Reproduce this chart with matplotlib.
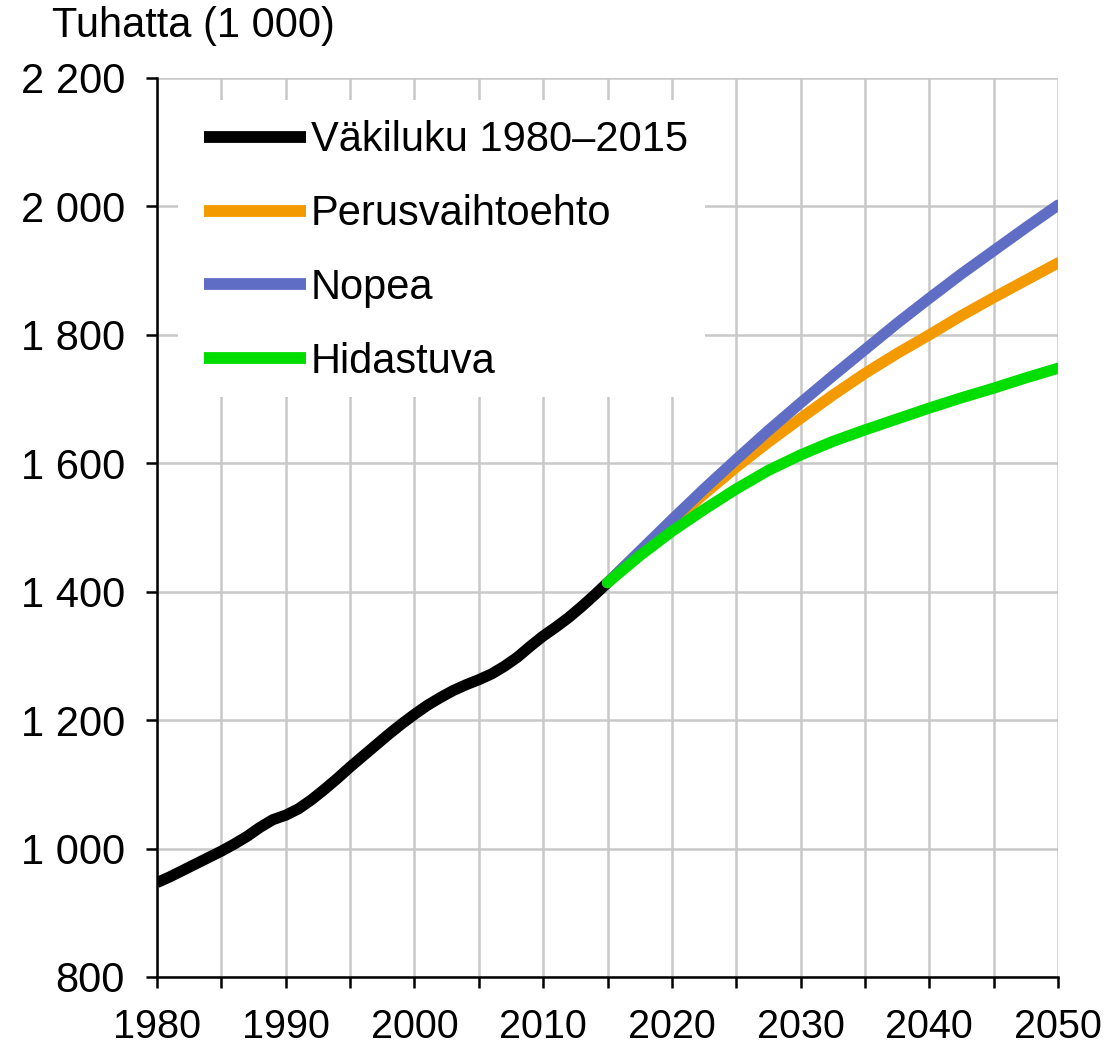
import matplotlib
matplotlib.use("Agg")
import matplotlib.pyplot as plt
from matplotlib.patches import Rectangle
from matplotlib.ticker import FuncFormatter

plt.rcParams['font.family'] = ['Liberation Sans', 'DejaVu Sans']

# historical population (thousands)
hist_years = list(range(1980, 2016))
hist_pop = [947, 956, 966, 976, 986, 996, 1007, 1019, 1033, 1045,
            1052, 1062, 1076, 1092, 1109, 1127, 1144, 1161, 1178, 1194,
            1209, 1223, 1235, 1246, 1255, 1263, 1272, 1284, 1298, 1315,
            1331, 1345, 1360, 1377, 1395, 1414]

# projections
proj_years = [2015, 2017.5, 2020, 2022.5, 2025, 2027.5, 2030, 2032.5,
              2035, 2037.5, 2040, 2042.5, 2045, 2047.5, 2050]
perus = [1414, 1461, 1508, 1552, 1594, 1633, 1670, 1706,
         1740, 1771, 1800, 1830, 1858, 1885, 1912]
nopea = [1414, 1463, 1512, 1560, 1606, 1651, 1694, 1736,
         1777, 1818, 1857, 1895, 1931, 1967, 2002]
hidastuva = [1414, 1456, 1494, 1528, 1560, 1589, 1613, 1634,
             1652, 1669, 1686, 1702, 1717, 1733, 1748]

labels = ['Väkiluku 1980–2015', 'Perusvaihtoehto', 'Nopea', 'Hidastuva']
colors = ['#000000', '#F39A00', '#5F6EC4', '#00DD00']

fig = plt.figure(figsize=(11.1, 10.45), dpi=100)
ax = fig.add_axes([157 / 1110, 68 / 1045, 901 / 1110, 899 / 1045])

lw = 8
l0, = ax.plot(hist_years, hist_pop, color=colors[0], lw=lw, solid_capstyle='butt',
              solid_joinstyle='round', zorder=3)
l1, = ax.plot(proj_years, perus, color=colors[1], lw=lw, solid_capstyle='round',
              solid_joinstyle='round', zorder=4)
l2, = ax.plot(proj_years, nopea, color=colors[2], lw=lw, solid_capstyle='round',
              solid_joinstyle='round', zorder=5)
l3, = ax.plot(proj_years, hidastuva, color=colors[3], lw=lw, solid_capstyle='round',
              solid_joinstyle='round', zorder=6)

ax.set_xlim(1980, 2050)
ax.set_ylim(800, 2200)
ax.set_xticks(range(1980, 2051, 5))
ax.set_xticklabels([str(y) if y % 10 == 0 else '' for y in range(1980, 2051, 5)])
ax.set_yticks(range(800, 2201, 200))
ax.yaxis.set_major_formatter(FuncFormatter(lambda v, p: f'{int(v):,}'.replace(',', ' ')))

ax.grid(True, color='#C8C8C8', lw=1.8, zorder=0)
ax.set_axisbelow(True)
for s in ['top', 'right']:
    ax.spines[s].set_visible(False)
for s in ['left', 'bottom']:
    ax.spines[s].set_linewidth(1.8)
    ax.spines[s].set_zorder(7)
ax.tick_params(axis='both', length=8, width=1.8, color='black')
ax.tick_params(axis='y', labelsize=30, pad=15)
ax.tick_params(axis='x', labelsize=28.5, pad=14)

# white box behind the legend hides the grid
ax.add_patch(Rectangle((0.0233, 0.645), 0.585, 0.331, transform=ax.transAxes,
                       facecolor='white', edgecolor='none', zorder=2))

leg = ax.legend([l0, l1, l2, l3], labels, loc='center left',
                bbox_to_anchor=(0.0522, 0.8076), frameon=False, fontsize=30,
                handlelength=2.45, handletextpad=0.12, labelspacing=0.81,
                borderpad=0, borderaxespad=0)
for h in leg.get_lines():
    h.set_linewidth(8.5)
    h.set_solid_capstyle('butt')

fig.text(52 / 1110, 1 - 26 / 1045, 'Tuhatta (1 000)', fontsize=30, va='center', ha='left')

fig.savefig('out.png', dpi=100, facecolor='white')
